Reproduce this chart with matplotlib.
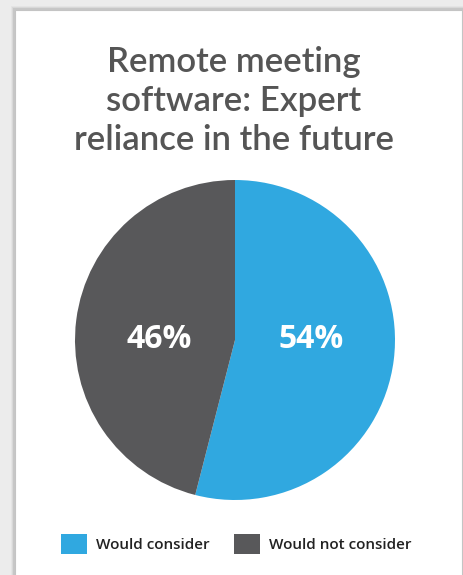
import matplotlib.pyplot as plt
from matplotlib.patches import Rectangle

# data
labels = ["Would consider", "Would not consider"]
shares = [54, 46]
colors = ["#30a8e0", "#58585a"]
title = "Remote meeting\nsoftware: Expert\nreliance in the future"

plt.rcParams['font.family'] = ['Open Sans', 'DejaVu Sans']

fig = plt.figure(figsize=(4.63, 5.75), dpi=100)
fig.patch.set_facecolor("#ececec")

# white card with a soft shadow
W, H = 463, 575
for i, a in enumerate([0.03, 0.05, 0.08]):
    d = 4 - i
    fig.add_artist(Rectangle(((15 - d) / W, 0), (448 + 2 * d) / W, (565 + d) / H,
                             transform=fig.transFigure, facecolor="black",
                             alpha=a, edgecolor="none", zorder=-3))
fig.add_artist(Rectangle((15 / W, -0.01), 447 / W, 565 / H + 0.01,
                         transform=fig.transFigure, facecolor="white",
                         edgecolor="#c4c4c4", linewidth=0.8, zorder=-2))

fig.text(234 / W, 1 - 101 / H, title, ha="center", va="center",
         fontsize=25, color="#555555", family=["Lato", "DejaVu Sans"],
         fontweight="semibold", linespacing=1.25)

ax = fig.add_axes([75 / W, 1 - 500 / H, 320 / W, 320 / H])
wedges, texts, autotexts = ax.pie(shares, colors=colors, startangle=90,
                                  counterclock=False, radius=1,
                                  autopct=lambda p: f"{p:.0f}%",
                                  pctdistance=0.48,
                                  textprops=dict(color="white", fontsize=23,
                                                 fontweight="bold"))
for t in autotexts:
    t.set_y(0)
ax.set_xlim(-1, 1)
ax.set_ylim(-1, 1)
ax.set_aspect("equal")

# legend
leg = fig.legend(wedges, labels, loc="center", bbox_to_anchor=(236 / W, 1 - 544 / H),
                 ncol=2, frameon=False, handlelength=1.7, handleheight=1.7,
                 columnspacing=1.6, handletextpad=0.6,
                 prop=dict(size=11, weight="semibold"))
for t in leg.get_texts():
    t.set_color("#222222")

fig.savefig("out.png", dpi=100, facecolor=fig.get_facecolor())
